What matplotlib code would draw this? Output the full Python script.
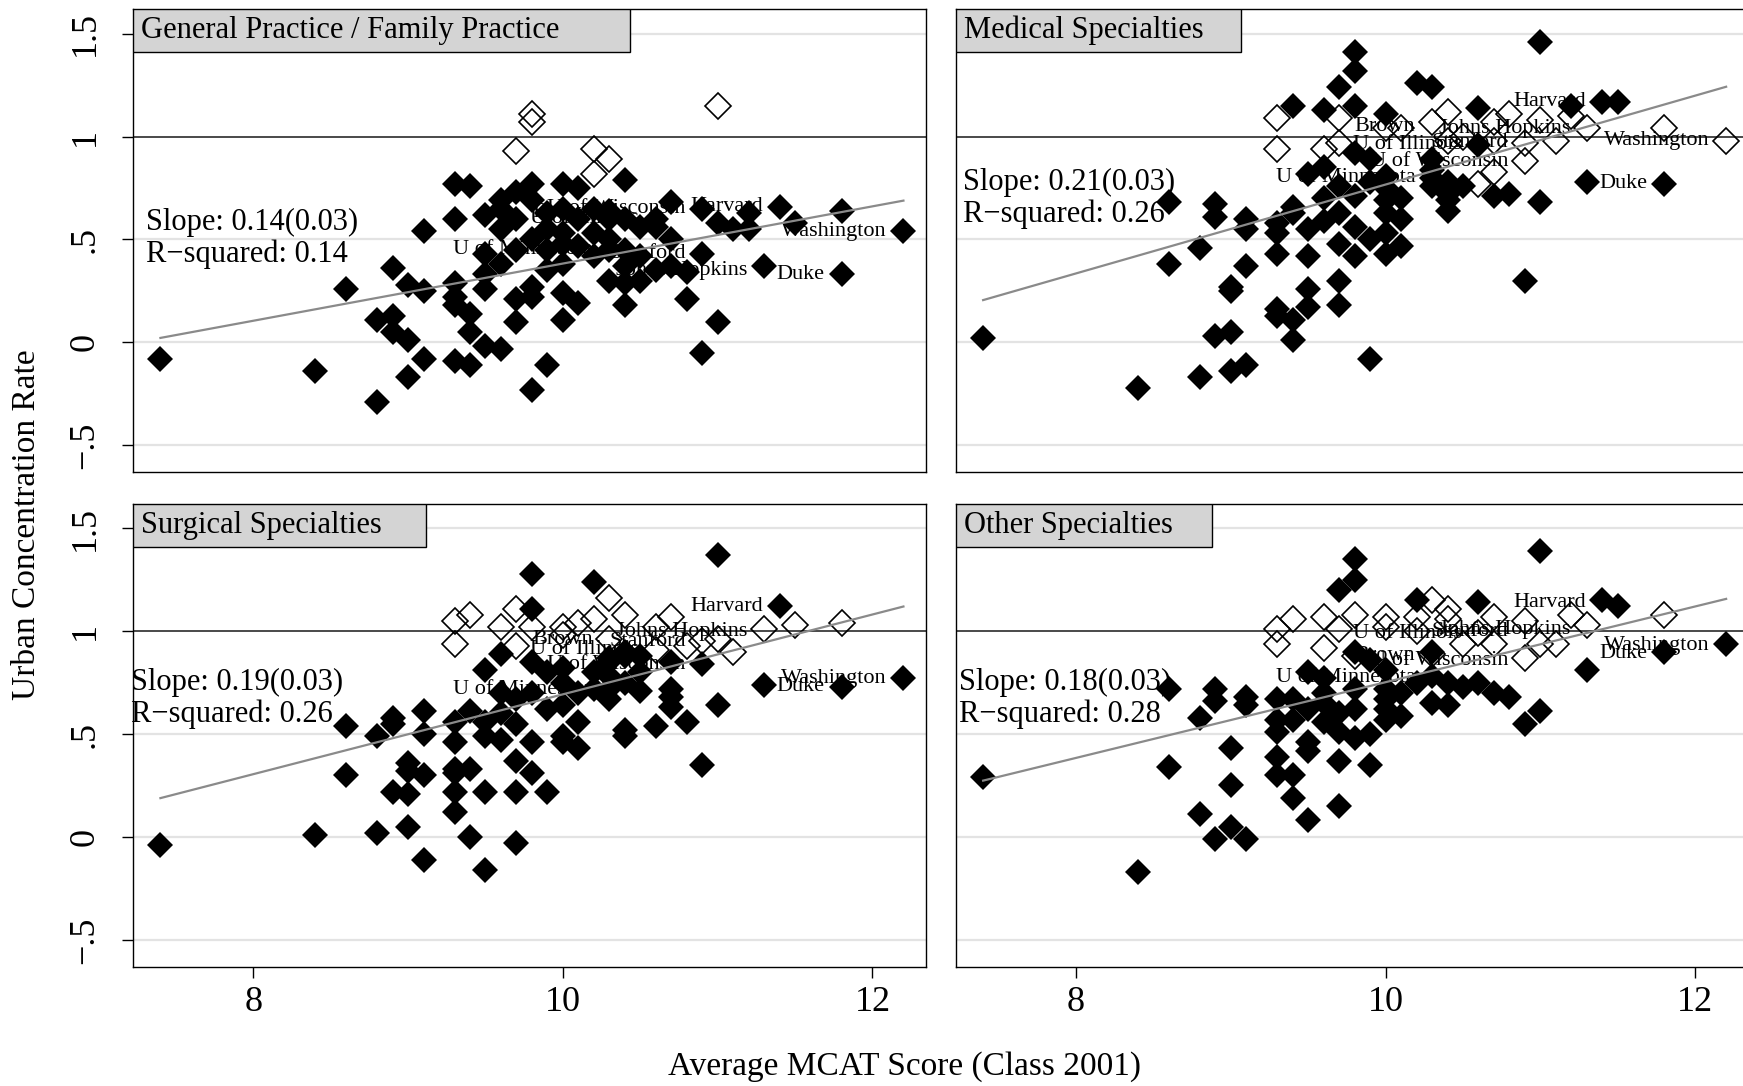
import matplotlib
matplotlib.use('Agg')
import matplotlib.pyplot as plt
from matplotlib.patches import Rectangle
import numpy as np

plt.rcParams['font.family'] = ['Liberation Serif', 'DejaVu Serif']

# panel titles and fit statistics
titles = ['General Practice / Family Practice', 'Medical Specialties',
          'Surgical Specialties', 'Other Specialties']
slope_txt = ['Slope: 0.14(0.03)', 'Slope: 0.21(0.03)', 'Slope: 0.19(0.03)', 'Slope: 0.18(0.03)']
r2_txt = ['R\u2212squared: 0.14', 'R\u2212squared: 0.26', 'R\u2212squared: 0.26', 'R\u2212squared: 0.28']
fit_slope = [0.139, 0.216, 0.194, 0.184]
fit_icept = [-1.007, -1.393, -1.247, -1.088]

# labelled schools (average MCAT) and their rate in each panel
schools = ['Harvard', 'Washington', 'Duke', 'Johns Hopkins', 'Stanford',
           'U of Minnesota', 'U of Wisconsin', 'U of Illinois', 'Brown']
school_mcat = [11.4, 12.2, 11.8, 11.3, 10.9, 10.3, 10.9, 10.6, 10.3]
lab_y1 = [0.66, 0.54, 0.33, 0.35, 0.43, 0.45, 0.65, 0.60, 0.63]
lab_y2 = [1.17, 0.98, 0.77, 1.04, 0.97, 0.80, 0.88, 0.96, 1.05]
lab_y3 = [1.12, 0.77, 0.73, 1.00, 0.95, 0.715, 0.84, 0.91, 0.96]
lab_y4 = [1.14, 0.93, 0.89, 1.01, 1.00, 0.775, 0.855, 0.99, 0.88]

# General Practice / Family Practice
gp_x = [7.4, 8.4, 8.6, 8.8, 8.8, 8.9, 8.9, 8.9, 9.0, 9.0, 9.0, 9.1, 9.1, 9.1,
        9.3, 9.3, 9.3, 9.3, 9.3, 9.3, 9.4, 9.4, 9.4, 9.4, 9.5, 9.5, 9.5, 9.5, 9.5,
        9.6, 9.6, 9.6, 9.6, 9.6, 9.7, 9.7, 9.7, 9.7, 9.7, 9.8, 9.8, 9.8, 9.8, 9.8, 9.8,
        9.9, 9.9, 9.9, 9.9, 9.9, 10.0, 10.0, 10.0, 10.0, 10.0, 10.0, 10.0,
        10.1, 10.1, 10.1, 10.1, 10.2, 10.2, 10.2, 10.3, 10.3, 10.3, 10.3, 10.3,
        10.4, 10.4, 10.4, 10.4, 10.4, 10.4, 10.5, 10.5, 10.5, 10.6, 10.6, 10.6,
        10.7, 10.7, 10.7, 10.8, 10.8, 10.9, 10.9, 10.9, 11.0, 11.0, 11.1, 11.2, 11.2,
        11.3, 11.4, 11.5, 11.8, 11.8, 12.2]
gp_y = [-0.08, -0.14, 0.26, -0.29, 0.11, 0.36, 0.13, 0.05, 0.28, 0.01, -0.17, 0.54, 0.25, -0.08,
        0.77, 0.60, 0.29, 0.22, 0.18, -0.09, 0.76, 0.14, 0.05, -0.11, 0.43, 0.26, -0.02, 0.62, 0.33,
        0.69, 0.65, -0.03, 0.55, 0.38, 0.73, 0.60, 0.21, 0.10, 0.45, 0.77, 0.69, 0.27, 0.22, -0.23, 0.50,
        0.63, 0.35, -0.11, 0.45, 0.55, 0.77, 0.53, 0.48, 0.24, 0.11, 0.65, 0.38,
        0.75, 0.47, 0.19, 0.60, 0.53, 0.65, 0.42, 0.50, 0.60, 0.30, 0.45, 0.64,
        0.79, 0.60, 0.37, 0.29, 0.18, 0.45, 0.56, 0.30, 0.42, 0.56, 0.35, 0.60,
        0.68, 0.50, 0.37, 0.34, 0.21, 0.43, 0.65, -0.05, 0.10, 0.58, 0.55, 0.55, 0.63,
        0.37, 0.66, 0.58, 0.64, 0.33, 0.54]
gp_open_x = [9.7, 9.8, 9.8, 10.2, 10.2, 10.3, 11.0]
gp_open_y = [0.93, 1.11, 1.07, 0.94, 0.82, 0.89, 1.15]

# Medical Specialties
med_x = [7.4, 8.4, 8.6, 8.6, 8.8, 8.8, 8.9, 8.9, 8.9, 9.0, 9.0, 9.0, 9.0, 9.1, 9.1, 9.1, 9.1,
         9.3, 9.3, 9.3, 9.3, 9.3, 9.4, 9.4, 9.4, 9.4, 9.4, 9.5, 9.5, 9.5, 9.5, 9.5,
         9.6, 9.6, 9.6, 9.6, 9.7, 9.7, 9.7, 9.7, 9.7, 9.7, 9.8, 9.8, 9.8, 9.8, 9.8, 9.8, 9.8,
         9.9, 9.9, 9.9, 9.9, 10.0, 10.0, 10.0, 10.0, 10.0, 10.0, 10.0, 10.1, 10.1, 10.1,
         10.2, 10.3, 10.3, 10.3, 10.3, 10.3, 10.4, 10.4, 10.4, 10.4, 10.5, 10.6, 10.6, 10.7, 10.8,
         10.9, 11.0, 11.0, 11.2, 11.3, 11.4, 11.5, 11.8]
med_y = [0.02, -0.22, 0.68, 0.38, -0.17, 0.46, 0.67, 0.61, 0.03, 0.05, -0.14, 0.27, 0.25, -0.11, 0.60, 0.55, 0.37,
         0.58, 0.53, 0.43, 0.16, 0.13, 1.15, 0.66, 0.63, 0.11, 0.01, 0.55, 0.42, 0.26, 0.17, 0.82,
         1.13, 0.85, 0.59, 0.70, 1.24, 0.48, 0.30, 0.18, 0.76, 0.63, 1.41, 1.32, 1.15, 0.92, 0.71, 0.42, 0.56,
         -0.08, 0.89, 0.50, 0.78, 1.11, 0.81, 0.69, 0.63, 0.53, 0.43, 0.75, 0.60, 0.47, 0.70,
         1.26, 1.24, 0.89, 0.76, 0.80, 0.84, 0.78, 0.69, 0.64, 0.72, 0.76, 1.14, 0.96, 0.71, 0.72,
         0.30, 1.46, 0.68, 1.15, 0.78, 1.17, 1.17, 0.77]
med_open_x = [9.3, 9.3, 9.6, 9.7, 9.7, 10.0, 10.1, 10.3, 10.4, 10.4, 10.5, 10.6, 10.7, 10.7,
              10.7, 10.8, 10.9, 10.9, 11.0, 11.1, 11.2, 11.3, 11.8, 12.2]
med_open_y = [1.09, 0.94, 0.94, 1.09, 0.97, 1.04, 1.04, 1.07, 1.12, 0.98, 1.00, 0.77, 1.07, 0.98,
              0.83, 1.11, 0.97, 0.88, 1.08, 0.98, 1.10, 1.04, 1.04, 0.98]

# Surgical Specialties
surg_x = [7.4, 8.4, 8.6, 8.6, 8.8, 8.8, 8.9, 8.9, 8.9, 9.0, 9.0, 9.0, 9.0, 9.1, 9.1, 9.1, 9.1,
          9.3, 9.3, 9.3, 9.3, 9.3, 9.3, 9.4, 9.4, 9.4, 9.5, 9.5, 9.5, 9.5, 9.5,
          9.6, 9.6, 9.6, 9.6, 9.7, 9.7, 9.7, 9.7, 9.7, 9.8, 9.8, 9.8, 9.8, 9.8, 9.8,
          9.9, 9.9, 9.9, 10.0, 10.0, 10.0, 10.0, 10.0, 10.1, 10.1, 10.1, 10.2, 10.2, 10.2,
          10.3, 10.3, 10.3, 10.3, 10.3, 10.4, 10.4, 10.4, 10.4, 10.4, 10.5, 10.5, 10.5, 10.6,
          10.7, 10.7, 10.7, 10.7, 10.8, 10.9, 10.9, 11.0, 11.0, 11.3, 11.4, 11.8, 12.2]
surg_y = [-0.04, 0.01, 0.54, 0.30, 0.49, 0.02, 0.58, 0.55, 0.22, 0.36, 0.32, 0.21, 0.05, 0.61, 0.50, 0.30, -0.11,
          0.56, 0.46, 0.33, 0.31, 0.22, 0.12, 0.61, 0.33, 0.00, 0.81, 0.56, 0.49, 0.22, -0.16,
          0.89, 0.70, 0.47, 0.60, -0.03, 0.22, 0.37, 0.67, 0.55, 1.28, 1.11, 0.85, 0.46, 0.31, 0.70,
          0.80, 0.22, 0.62, 0.75, 0.64, 0.49, 0.46, 0.82, 0.56, 0.43, 0.70, 1.24, 0.80, 0.72,
          0.78, 0.67, 0.87, 0.85, 0.72, 0.88, 0.52, 0.49, 0.75, 0.90, 0.88, 0.71, 0.80, 0.54,
          0.85, 0.72, 0.68, 0.63, 0.56, 0.35, 0.84, 1.37, 0.64, 0.74, 1.12, 0.73, 0.77]
surg_open_x = [9.3, 9.3, 9.4, 9.6, 9.7, 9.7, 9.8, 10.0, 10.0, 10.1, 10.2, 10.3, 10.3, 10.4, 10.6, 10.6,
               10.7, 10.8, 10.9, 11.0, 11.1, 11.3, 11.5, 11.8]
surg_open_y = [1.05, 0.94, 1.08, 1.02, 1.11, 0.93, 1.02, 1.02, 0.98, 1.04, 1.06, 1.16, 0.96, 1.08, 1.02, 0.91,
               1.07, 0.93, 0.95, 0.96, 0.90, 1.01, 1.03, 1.04]

# Other Specialties
oth_x = [7.4, 8.4, 8.6, 8.6, 8.8, 8.8, 8.9, 8.9, 8.9, 9.0, 9.0, 9.0, 9.1, 9.1, 9.1,
         9.3, 9.3, 9.3, 9.3, 9.3, 9.4, 9.4, 9.4, 9.4, 9.5, 9.5, 9.5, 9.5, 9.5,
         9.6, 9.6, 9.6, 9.6, 9.7, 9.7, 9.7, 9.7, 9.7, 9.8, 9.8, 9.8, 9.8, 9.8, 9.8,
         9.9, 9.9, 9.9, 10.0, 10.0, 10.0, 10.0, 10.0, 10.1, 10.1, 10.2, 10.2, 10.3, 10.3, 10.3,
         10.4, 10.4, 10.5, 10.6, 10.6, 10.7, 10.8, 10.9, 11.0, 11.0, 11.3, 11.4, 11.5, 11.8, 12.2]
oth_y = [0.29, -0.17, 0.72, 0.34, 0.58, 0.11, 0.72, 0.66, -0.01, 0.43, 0.25, 0.05, 0.68, 0.64, -0.01,
         0.67, 0.57, 0.51, 0.39, 0.30, 0.67, 0.57, 0.30, 0.19, 0.80, 0.62, 0.46, 0.42, 0.08,
         0.65, 0.77, 0.56, 0.70, 0.51, 0.37, 0.15, 1.20, 0.60, 1.35, 1.25, 0.90, 0.62, 0.48, 0.72,
         0.86, 0.50, 0.35, 0.81, 0.72, 0.67, 0.62, 0.57, 0.59, 0.70, 1.15, 0.75, 0.90, 0.78, 0.65,
         0.75, 0.64, 0.73, 1.14, 0.75, 0.70, 0.68, 0.55, 0.61, 1.39, 0.81, 1.15, 1.12, 0.90, 0.94]
oth_open_x = [9.3, 9.3, 9.4, 9.6, 9.6, 9.7, 9.8, 9.8, 10.0, 10.0, 10.2, 10.2, 10.3, 10.3, 10.4, 10.4,
              10.5, 10.6, 10.7, 10.7, 10.9, 10.9, 11.0, 11.1, 11.2, 11.3, 11.8]
oth_open_y = [1.01, 0.94, 1.06, 1.07, 0.92, 1.01, 1.08, 0.88, 1.07, 1.02, 1.07, 1.00, 1.15, 0.89, 1.11, 1.06,
              0.94, 0.99, 1.07, 0.94, 1.05, 0.87, 0.94, 0.94, 1.08, 1.03, 1.08]

fill_x = [gp_x, med_x, surg_x, oth_x]
fill_y = [gp_y, med_y, surg_y, oth_y]
open_x = [gp_open_x, med_open_x, surg_open_x, oth_open_x]
open_y = [gp_open_y, med_open_y, surg_open_y, oth_open_y]
lab_y = [lab_y1, lab_y2, lab_y3, lab_y4]

# layout (figure fractions)
left_pos = [0.0765, 0.5485, 0.0765, 0.5485]
bot_pos = [0.565, 0.565, 0.1096, 0.1096]
ax_w, ax_h = 0.4547, 0.4267
box_w = [0.627, 0.359, 0.369, 0.323]
box_h = 0.0935
stat_x = [7.31, 7.27, 7.21, 7.245]
stat_y = [0.582, 0.778, 0.751, 0.751]

fig = plt.figure(figsize=(17.43, 10.86), dpi=100)

for i in range(4):
    ax = fig.add_axes([left_pos[i], bot_pos[i], ax_w, ax_h])
    ax.set_xlim(7.225, 12.345)
    ax.set_ylim(-0.632, 1.62)

    for g in [1.5, 0.5, 0, -0.5]:
        ax.axhline(g, color='#e3e3e3', lw=1.6, zorder=0)
    ax.axhline(1, color='#3a3a3a', lw=1.3, zorder=1)

    # school labels sit left of their marker
    for name, mx, my in zip(schools, school_mcat, lab_y[i]):
        ax.annotate(name, (mx, my), xytext=(-12, 0), textcoords='offset points',
                    ha='right', va='center', fontsize=16, zorder=2)

    ax.text(stat_x[i], stat_y[i], slope_txt[i], fontsize=22, va='center', zorder=2)
    ax.text(stat_x[i], stat_y[i] - 0.153, r2_txt[i], fontsize=22, va='center', zorder=2)

    ax.plot(open_x[i], open_y[i], linestyle='none', marker='D', markersize=13,
            markerfacecolor='none', markeredgecolor='black', markeredgewidth=1.2, zorder=3)
    ax.plot(fill_x[i], fill_y[i], linestyle='none', marker='D', markersize=13.5,
            markerfacecolor='black', markeredgewidth=0, zorder=4)

    all_x = np.array(fill_x[i] + open_x[i])
    xs = np.array([all_x.min(), all_x.max()])
    ax.plot(xs, fit_icept[i] + fit_slope[i] * xs, color='#8a8a8a', lw=1.6, zorder=5)

    # title box
    ax.add_patch(Rectangle((0, 1 - box_h), box_w[i], box_h, transform=ax.transAxes,
                           facecolor='#d4d4d4', edgecolor='black', lw=1.0, zorder=7))
    ax.text(0.0098, 1 - box_h / 2, titles[i], transform=ax.transAxes, fontsize=22,
            va='center', ha='left', zorder=8)

    for s in ax.spines.values():
        s.set_linewidth(1.0)

    ax.set_yticks([-0.5, 0, 0.5, 1, 1.5])
    if i in (0, 2):
        ax.set_yticklabels(['\u2212.5', '0', '.5', '1', '1.5'], rotation=90,
                           va='center', fontsize=26)
        ax.tick_params(axis='y', length=8, width=1.0, pad=15)
    else:
        ax.tick_params(axis='y', left=False, labelleft=False)

    ax.set_xticks([8, 10, 12])
    if i >= 2:
        ax.set_xticklabels(['8', '10', '12'], fontsize=26)
        ax.tick_params(axis='x', length=8, width=1.0, pad=6)
    else:
        ax.tick_params(axis='x', bottom=False, labelbottom=False)

fig.text(0.0155, 0.517, 'Urban Concentration Rate', rotation=90, fontsize=24,
         ha='center', va='center')
fig.text(0.519, 0.0175, 'Average MCAT Score (Class 2001)', fontsize=24,
         ha='center', va='center')

fig.savefig('out.png', dpi=100)
